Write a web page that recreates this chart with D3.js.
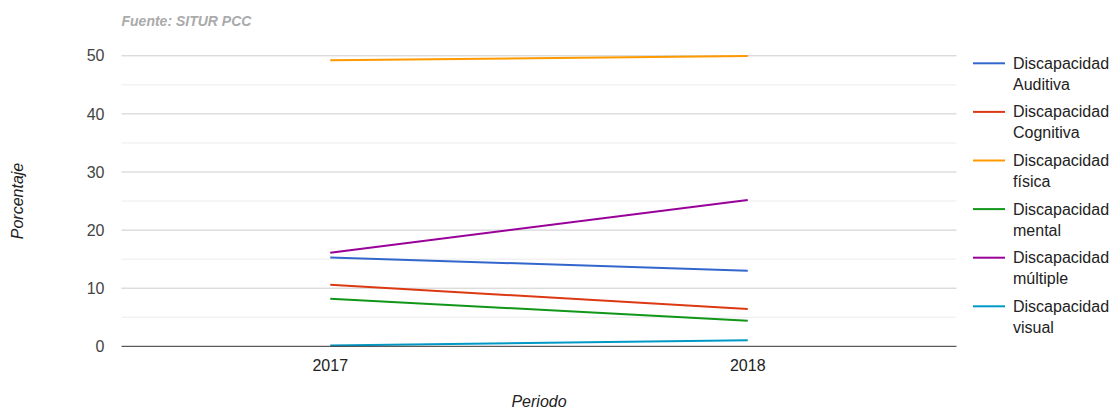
<!DOCTYPE html>
<html>
<head>
<meta charset="utf-8">
<script src="https://cdn.jsdelivr.net/npm/d3@7"></script>
<style>
	body { margin: 0; background: #fff; }
	svg { display: block; font-family: "Liberation Sans", Arial, sans-serif; }
</style>
</head>
<body>
<div id="chart"></div>
<script>
// periods on the x axis
var periods = ["2017", "2018"];

// series names, split on two lines in the legend
var seriesNames = [
	["Discapacidad", "Auditiva"],
	["Discapacidad", "Cognitiva"],
	["Discapacidad", "física"],
	["Discapacidad", "mental"],
	["Discapacidad", "múltiple"],
	["Discapacidad", "visual"]
];

// percentages per series, one value per period
var auditiva = [15.3, 13.0];
var cognitiva = [10.6, 6.4];
var fisica = [49.25, 49.95];
var mental = [8.2, 4.4];
var multiple = [16.1, 25.2];
var visual = [0.15, 1.05];

var yTicks = [0, 10, 20, 30, 40, 50];
var yMinorTicks = [5, 15, 25, 35, 45];

var colors = ["#3366cc", "#dc3912", "#ff9900", "#109618", "#990099", "#0099c6"];

var allSeries = [auditiva, cognitiva, fisica, mental, multiple, visual];

var width = 1115, height = 411;
var plot = { left: 121.5, right: 956.5, top: 55.8, bottom: 346.3 };

var svg = d3.select("#chart").append("svg")
	.attr("width", width)
	.attr("height", height);

var x = d3.scaleBand()
	.domain(periods)
	.range([plot.left, plot.right]);

var y = d3.scaleLinear()
	.domain([0, 50])
	.range([plot.bottom, plot.top]);

// minor gridlines
svg.append("g")
	.selectAll("line")
	.data(yMinorTicks)
	.join("line")
	.attr("x1", plot.left)
	.attr("x2", plot.right)
	.attr("y1", function(d) { return y(d); })
	.attr("y2", function(d) { return y(d); })
	.attr("stroke", "#ebebeb")
	.attr("stroke-width", 1);

// major gridlines
svg.append("g")
	.selectAll("line")
	.data(yTicks.filter(function(d) { return d !== 0; }))
	.join("line")
	.attr("x1", plot.left)
	.attr("x2", plot.right)
	.attr("y1", function(d) { return y(d); })
	.attr("y2", function(d) { return y(d); })
	.attr("stroke", "#cccccc")
	.attr("stroke-width", 1);

// y axis labels
var yAxis = d3.axisLeft(y)
	.tickValues(yTicks)
	.tickSize(0)
	.tickPadding(17);

svg.append("g")
	.attr("transform", "translate(" + plot.left + ",0)")
	.call(yAxis)
	.call(function(g) { g.select(".domain").remove(); })
	.selectAll("text")
	.attr("font-size", 16)
	.attr("font-family", "Liberation Sans, Arial, sans-serif")
	.attr("fill", "#444");

// x axis labels
var xAxis = d3.axisBottom(x)
	.tickSize(0)
	.tickPadding(13);

svg.append("g")
	.attr("transform", "translate(0," + plot.bottom + ")")
	.call(xAxis)
	.call(function(g) { g.select(".domain").remove(); })
	.selectAll("text")
	.attr("font-size", 16)
	.attr("font-family", "Liberation Sans, Arial, sans-serif")
	.attr("fill", "#222");

// lines
var line = d3.line()
	.x(function(d, i) { return x(periods[i]) + x.bandwidth() / 2; })
	.y(function(d) { return y(d); });

svg.append("g")
	.selectAll("path")
	.data(allSeries)
	.join("path")
	.attr("d", line)
	.attr("fill", "none")
	.attr("stroke", function(d, i) { return colors[i]; })
	.attr("stroke-width", 2);

// baseline
svg.append("line")
	.attr("x1", plot.left)
	.attr("x2", plot.right)
	.attr("y1", y(0))
	.attr("y2", y(0))
	.attr("stroke", "#333")
	.attr("stroke-width", 1);

// source note
svg.append("text")
	.attr("x", plot.left)
	.attr("y", 26)
	.attr("font-size", 14)
	.attr("font-weight", "bold")
	.attr("font-style", "italic")
	.attr("fill", "#aaaaaa")
	.text("Fuente: SITUR PCC");

// axis titles
svg.append("text")
	.attr("transform", "translate(23,201) rotate(-90)")
	.attr("text-anchor", "middle")
	.attr("font-size", 16)
	.attr("font-style", "italic")
	.attr("fill", "#222")
	.text("Porcentaje");

svg.append("text")
	.attr("x", (plot.left + plot.right) / 2)
	.attr("y", 407)
	.attr("text-anchor", "middle")
	.attr("font-size", 16)
	.attr("font-style", "italic")
	.attr("fill", "#222")
	.text("Periodo");

// legend
var legend = svg.append("g")
	.selectAll("g")
	.data(seriesNames)
	.join("g")
	.attr("transform", function(d, i) { return "translate(973," + (63.3 + i * 48.6) + ")"; });

legend.append("line")
	.attr("x1", 0)
	.attr("x2", 32)
	.attr("y1", 0)
	.attr("y2", 0)
	.attr("stroke", function(d, i) { return colors[i]; })
	.attr("stroke-width", 2);

legend.append("text")
	.attr("x", 40)
	.attr("y", 5.5)
	.attr("font-size", 16)
	.attr("fill", "#222")
	.text(function(d) { return d[0]; });

legend.append("text")
	.attr("x", 40)
	.attr("y", 26.5)
	.attr("font-size", 16)
	.attr("fill", "#222")
	.text(function(d) { return d[1]; });
</script>
</body>
</html>
